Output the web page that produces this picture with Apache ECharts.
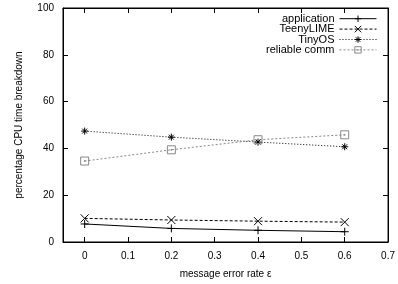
<!DOCTYPE html>
<html>
<head>
<meta charset="utf-8">
<script src="https://cdn.jsdelivr.net/npm/echarts@6/dist/echarts.min.js"></script>
<style>
  html, body { margin: 0; padding: 0; background: #fff; }
  #chart { width: 398px; height: 284px; }
</style>
</head>
<body>
<div id="chart"></div>
<script>
// message error rate
var errorRates = [0, 0.2, 0.4, 0.6];
var xTicks = [0, 0.1, 0.2, 0.3, 0.4, 0.5, 0.6, 0.7];
// percentage CPU time breakdown
var application = [7.7, 5.8, 5.0, 4.4];
var teenyLime = [10.1, 9.4, 8.9, 8.5];
var tinyOS = [47.4, 44.8, 42.7, 40.7];
var reliableComm = [34.6, 39.4, 43.7, 45.8];

var FONT = 'Liberation Sans';
var PLUS = 'path://M0,5L10,5M5,0L5,10';
var CROSS = 'path://M0,0L10,10M0,10L10,0';
var STAR = 'path://M0,5L10,5M5,0L5,10M1.5,1.5L8.5,8.5M1.5,8.5L8.5,1.5';
var BOX = 'path://M0,0L10,0L10,10L0,10ZM4.5,4.5L5.5,4.5L5.5,5.5L4.5,5.5Z';

function pairs(vals) {
  return errorRates.map(function (x, i) { return [x, vals[i]]; });
}

function mkSeries(name, vals, symbol, size, color, dash) {
  return {
    name: name,
    type: 'line',
    data: pairs(vals),
    symbol: symbol,
    symbolSize: size,
    showAllSymbol: true,
    lineStyle: { color: color, width: 1, type: dash },
    itemStyle: { color: 'none', borderColor: color, borderWidth: 1 },
    emphasis: { disabled: true },
    animation: false
  };
}

// legend entries drawn with thin lines and hollow marks
function legendItem(name, color, dash) {
  return {
    name: name,
    itemStyle: { color: 'none', borderColor: color, borderWidth: 1 },
    lineStyle: { color: color, width: 1, type: dash }
  };
}

var tickIn = { show: true, inside: true, length: 5, lineStyle: { color: '#000' } };

var chart = echarts.init(document.getElementById('chart'));
chart.setOption({
  backgroundColor: '#fff',
  textStyle: { fontFamily: FONT },
  grid: { left: 63, right: 7, top: 8, bottom: 41, show: true, borderColor: '#000', borderWidth: 1 },
  legend: {
    orient: 'vertical',
    right: 16,
    top: 8,
    align: 'right',
    itemWidth: 37,
    itemHeight: 8,
    itemGap: -1,
    textStyle: { fontFamily: FONT, fontSize: 11, lineHeight: 10, color: '#000' },
    data: [
      legendItem('application', '#000', 'solid'),
      legendItem('TeenyLIME', '#000', [3, 2]),
      legendItem('TinyOS', '#000', [1, 2]),
      legendItem('reliable comm', '#888', [2, 2])
    ]
  },
  xAxis: [{
    type: 'value',
    min: -0.05,
    max: 0.7,
    name: 'message error rate \u03b5',
    nameLocation: 'middle',
    nameGap: 27,
    nameTextStyle: { fontFamily: FONT, fontSize: 10, color: '#000' },
    axisLine: { show: true, onZero: false, lineStyle: { color: '#000' } },
    axisTick: Object.assign({ customValues: xTicks }, tickIn),
    axisLabel: { customValues: xTicks, fontFamily: FONT, fontSize: 10, color: '#000', margin: 9 },
    splitLine: { show: false }
  }, {
    type: 'value',
    position: 'top',
    min: -0.05,
    max: 0.7,
    axisLine: { show: true, onZero: false, lineStyle: { color: '#000' } },
    axisTick: Object.assign({ customValues: xTicks }, tickIn),
    axisLabel: { show: false },
    splitLine: { show: false }
  }],
  yAxis: [{
    type: 'value',
    min: 0,
    max: 100,
    interval: 20,
    name: 'percentage CPU time breakdown',
    nameLocation: 'middle',
    nameGap: 39,
    nameTextStyle: { fontFamily: FONT, fontSize: 10, color: '#000' },
    axisLine: { show: true, onZero: false, lineStyle: { color: '#000' } },
    axisTick: tickIn,
    axisLabel: { fontFamily: FONT, fontSize: 10, color: '#000', margin: 9 },
    splitLine: { show: false }
  }, {
    type: 'value',
    position: 'right',
    min: 0,
    max: 100,
    interval: 20,
    axisLine: { show: true, onZero: false, lineStyle: { color: '#000' } },
    axisTick: tickIn,
    axisLabel: { show: false },
    splitLine: { show: false }
  }],
  series: [
    mkSeries('application', application, PLUS, 8, '#000', 'solid'),
    mkSeries('TeenyLIME', teenyLime, CROSS, 8, '#000', [3, 2]),
    mkSeries('TinyOS', tinyOS, STAR, 7, '#000', [1, 2]),
    mkSeries('reliable comm', reliableComm, BOX, 8, '#888', [2, 2])
  ]
});
</script>
</body>
</html>
